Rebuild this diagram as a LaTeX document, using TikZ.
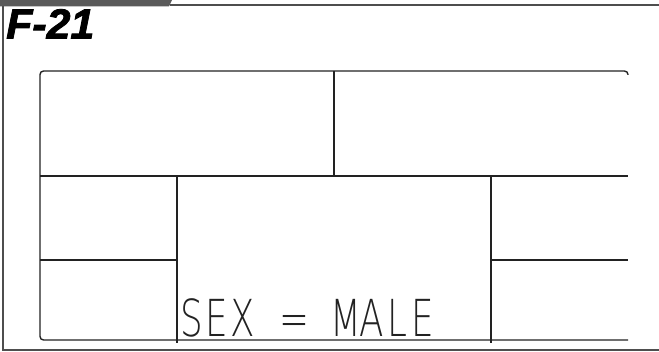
\documentclass[tikz,border=0pt]{standalone}
\usepackage{fontspec}
\newfontfamily\titlefont{Liberation Sans}[FakeBold=2]
\IfFontExistsTF{DejaVu Sans ExtraLight}
  {\newfontfamily\lcdfont{DejaVu Sans ExtraLight}}
  {\newfontfamily\lcdfont{DejaVu Sans Mono}}
\newcommand{\lcdch}[1]{\makebox[36.7pt][c]{#1}}
\definecolor{barcol}{HTML}{5A5A5A}
\definecolor{linecol}{HTML}{222222}
\tikzset{
  frameline/.style={draw=linecol!80, line width=1.3pt},
  screenline/.style={draw=linecol, line width=1.4pt},
  divline/.style={draw=linecol, line width=2.8pt},
}
\begin{document}
\begin{tikzpicture}[x=1pt,y=-1pt]
\useasboundingbox (0,0) rectangle (659,352);
% header bar and frame
\fill[barcol] (0,0) -- (172,0) -- (169,6.5) -- (0,6.5) -- cycle;
\coordinate (ftl) at (3,6);
\coordinate (ftr) at (659,5);
\coordinate (fbl) at (3,350);
\coordinate (fbr) at (659,350);
\coordinate (barend) at (170,5);
\draw[frameline] (barend) -- (ftr);
\draw[frameline] (ftl) -- (fbl) -- (fbr);
% title
\node[anchor=base west, inner sep=0pt, xscale=1.02, transform shape, font=\titlefont\bfseries\itshape\fontsize{42}{42}\selectfont] (title) at (6,38.5) {F-21};
% screen outline (open right side with corner hooks)
\coordinate (stl) at (40,71);
\coordinate (sbl) at (40,343);
\draw[screenline, rounded corners=3.5pt] (628,75) |- (stl) |- (628,340);
% dividers
\coordinate (hl) at (40,176);
\coordinate (hr) at (628,176);
\draw[divline] (hl) -- (hr);
\coordinate (vt) at (334,71);
\coordinate (vb) at (334,176);
\draw[divline] (vt) -- (vb);
\coordinate (v1t) at (177,176);
\coordinate (v1b) at (177,343);
\draw[divline] (v1t) -- (v1b);
\coordinate (v2t) at (491,176);
\coordinate (v2b) at (491,343);
\draw[divline] (v2t) -- (v2b);
\coordinate (l1) at (40,260);
\coordinate (l2) at (177,260);
\draw[divline] (l1) -- (l2);
\coordinate (r1) at (491,260);
\coordinate (r2) at (628,260);
\draw[divline] (r1) -- (r2);
% LCD text
\node[anchor=base west, inner sep=0pt, xscale=0.7, transform shape,
      font=\lcdfont\fontsize{51}{51}\selectfont, text=linecol] (lcd) at (178.5,337)
  {\lcdch{S}\lcdch{E}\lcdch{X}\lcdch{ }\lcdch{=}\lcdch{ }\lcdch{M}\lcdch{A}\lcdch{L}\lcdch{E}};
\end{tikzpicture}
\end{document}
